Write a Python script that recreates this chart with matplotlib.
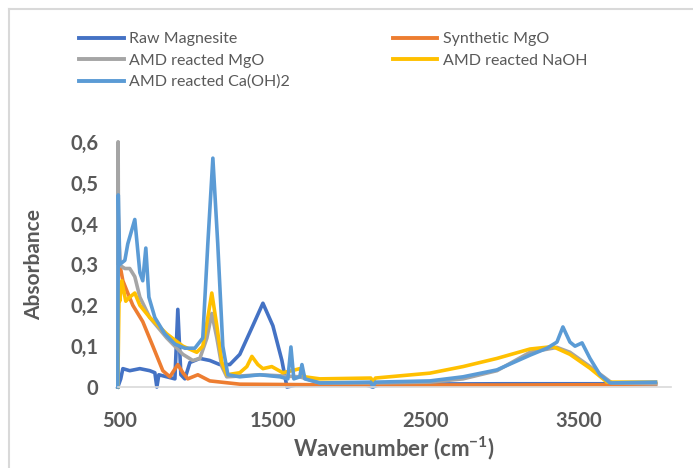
import matplotlib
matplotlib.use('Agg')
import matplotlib.pyplot as plt
from matplotlib.lines import Line2D
from matplotlib.ticker import FuncFormatter

# spectra (wavenumber cm-1, absorbance)
wn_raw = [487, 506, 520, 565, 631, 696, 729, 742, 755, 807, 860, 879, 899, 925, 958, 1023, 1088,
          1153, 1219, 1284, 1369, 1435, 1500, 1559, 1592, 1650, 2100, 2153, 2200, 3000, 4000]
ab_raw = [0.0, 0.02, 0.045, 0.04, 0.045, 0.04, 0.035, 0.0, 0.03, 0.025, 0.02, 0.19, 0.03, 0.02,
          0.06, 0.07, 0.065, 0.055, 0.055, 0.08, 0.15, 0.205, 0.15, 0.065, 0.0, 0.005, 0.006,
          0.0, 0.007, 0.008, 0.008]

wn_syn = [488, 500, 520, 552, 585, 650, 716, 781, 827, 879, 912, 944, 1010, 1088, 1284, 2000, 3000, 4000]
ab_syn = [0.44, 0.30, 0.26, 0.23, 0.20, 0.16, 0.10, 0.04, 0.025, 0.055, 0.035, 0.02, 0.03, 0.015,
          0.007, 0.005, 0.005, 0.006]

wn_mgo = [487, 489, 492, 533, 565, 598, 631, 696, 807, 912, 977, 1023, 1069, 1101, 1134, 1167, 1199,
          1415, 1676, 1807, 2153, 2526, 2742, 2964, 3180, 3356, 3441, 3572, 3715, 4000]
ab_mgo = [0.0, 0.60, 0.30, 0.29, 0.29, 0.27, 0.22, 0.17, 0.12, 0.08, 0.065, 0.07, 0.12, 0.18, 0.12,
          0.05, 0.025, 0.03, 0.025, 0.01, 0.01, 0.012, 0.02, 0.04, 0.085, 0.097, 0.085, 0.05, 0.01, 0.008]

wn_naoh = [487, 495, 500, 513, 539, 565, 598, 631, 696, 807, 912, 1003, 1042, 1075, 1101, 1134, 1167,
           1199, 1284, 1330, 1363, 1402, 1435, 1493, 1565, 1624, 1676, 1709, 1807, 2140, 2153, 2170,
           2526, 2742, 2964, 3180, 3330, 3441, 3572, 3683, 4000]
ab_naoh = [0.0, 0.22, 0.21, 0.26, 0.21, 0.22, 0.23, 0.20, 0.17, 0.13, 0.10, 0.085, 0.10, 0.17, 0.23,
           0.15, 0.06, 0.03, 0.035, 0.05, 0.075, 0.055, 0.045, 0.05, 0.035, 0.04, 0.045, 0.025, 0.02,
           0.022, 0.012, 0.022, 0.034, 0.05, 0.07, 0.093, 0.099, 0.08, 0.046, 0.012, 0.012]

wn_caoh = [487, 490, 500, 533, 552, 598, 631, 650, 670, 690, 729, 794, 860, 925, 990, 1042, 1075,
           1108, 1140, 1173, 1206, 1284, 1415, 1546, 1598, 1618, 1637, 1676, 1690, 1709, 1807, 2140,
           2153, 2170, 2526, 2742, 2964, 3180, 3291, 3356, 3395, 3441, 3474, 3520, 3572, 3637, 3703, 4000]
ab_caoh = [0.0, 0.47, 0.30, 0.31, 0.35, 0.41, 0.28, 0.26, 0.34, 0.22, 0.17, 0.13, 0.105, 0.095, 0.095,
           0.12, 0.35, 0.56, 0.35, 0.10, 0.03, 0.025, 0.03, 0.025, 0.02, 0.098, 0.02, 0.025, 0.055,
           0.02, 0.01, 0.012, 0.0, 0.012, 0.015, 0.025, 0.042, 0.078, 0.095, 0.11, 0.147, 0.11, 0.10,
           0.108, 0.07, 0.03, 0.01, 0.012]

names = ['Raw Magnesite', 'Synthetic MgO', 'AMD reacted MgO', 'AMD reacted NaOH', 'AMD reacted Ca(OH)2']
colors = ['#4472C4', '#ED7D31', '#A5A5A5', '#FFC000', '#5B9BD5']
series = [(wn_raw, ab_raw), (wn_syn, ab_syn), (wn_mgo, ab_mgo), (wn_naoh, ab_naoh), (wn_caoh, ab_caoh)]

xticks = [500, 1500, 2500, 3500]
yticks = [0, 0.1, 0.2, 0.3, 0.4, 0.5, 0.6]

plt.rcParams['font.family'] = ['Lato', 'DejaVu Sans']
txt = '#595959'

fig = plt.figure(figsize=(6.93, 4.68), dpi=100)
ax = fig.add_axes([0.170, 0.173, 0.798, 0.524])

for (x, y), c in zip(series, colors):
    ax.plot(x, y, color=c, lw=2.6, solid_joinstyle='round', clip_on=False)

ax.set_xlim(487, 4100)
ax.set_ylim(0, 0.6)
ax.set_xticks(xticks)
ax.set_yticks(yticks)
ax.yaxis.set_major_formatter(FuncFormatter(lambda v, p: '0' if v == 0 else ('%.1f' % v).replace('.', ',')))
ax.tick_params(length=0, labelsize=14.5, labelcolor=txt)
ax.tick_params(axis='x', pad=17)
ax.tick_params(axis='y', pad=14)
for lab in ax.get_xticklabels() + ax.get_yticklabels():
    lab.set_fontweight('bold')
for s in ['top', 'right', 'left']:
    ax.spines[s].set_visible(False)
ax.spines['bottom'].set_color('#D9D9D9')
ax.spines['bottom'].set_linewidth(1.2)

ax.set_xlabel('Wavenumber (cm$^{\\mathregular{-1}}$)', fontsize=16, fontweight='bold', color=txt, labelpad=3)
ax.set_ylabel('Absorbance', fontsize=15, fontweight='bold', color=txt, labelpad=19)

# legend, two columns filled row by row
order = [0, 2, 4, 1, 3]
handles = [Line2D([], [], color=colors[i], lw=2.8) for i in order]
fig.legend(handles, [names[i] for i in order], ncol=2, loc='upper left',
           bbox_to_anchor=(0.105, 0.945), frameon=False, fontsize=11.5, labelcolor=txt,
           handlelength=2.8, handletextpad=0.35, columnspacing=6.4, labelspacing=0.45,
           borderaxespad=0)

# chart border (top and left edges visible)
fig.add_artist(Line2D([0.013, 0.013], [0, 0.981], color='#D9D9D9', lw=1.5))
fig.add_artist(Line2D([0.013, 1], [0.981, 0.981], color='#D9D9D9', lw=1.5))

fig.savefig('out.png', dpi=100)
